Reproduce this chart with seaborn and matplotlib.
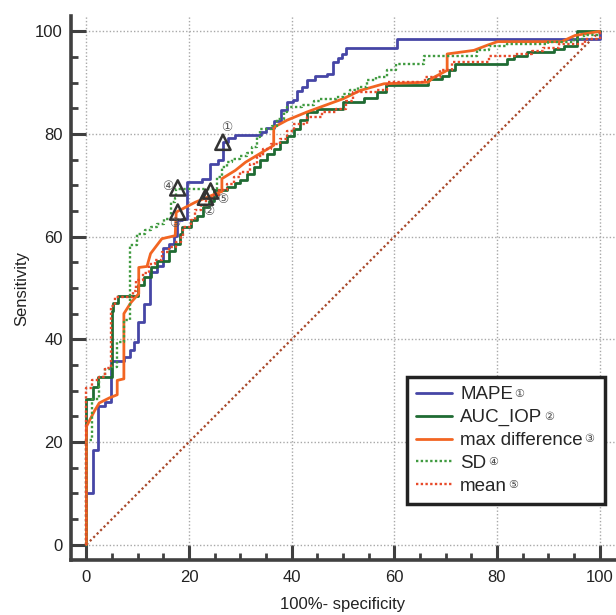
import pandas as pd
import matplotlib
matplotlib.use("Agg")
import matplotlib.pyplot as plt
import matplotlib.transforms as mtransforms
from matplotlib.patches import Rectangle
import seaborn as sns
from matplotlib.ticker import MultipleLocator

# ROC curves (x = 100% - specificity, y = sensitivity)
mape_x = [0, 0, 1.3, 2.2, 3.6, 4.8, 7.4, 8.5, 9.2, 10.0, 11.2, 12.3, 13.8, 15.0, 16.0, 17.0,
          17.7, 18.6, 19.6, 22.5, 24.0, 25.6, 26.6, 27.6, 29.0, 34.0, 35.0, 36.5, 38.0, 39.0,
          40.2, 41.0, 42.0, 43.0, 44.5, 46.8, 48.0, 49.0, 49.8, 50.5, 60.6, 98.2, 100]
mape_y = [0, 10, 18.5, 27.0, 27.8, 35.7, 36.6, 38.0, 39.4, 43.3, 46.9, 53.1, 54.2, 57.8, 58.6, 60.2,
          63.3, 63.5, 70.6, 71.2, 74.2, 75.0, 78.4, 79.2, 79.9, 80.3, 81.2, 82.6, 84.6, 86.2,
          86.6, 88.4, 89.2, 90.5, 91.3, 91.7, 94.0, 94.8, 95.6, 96.8, 98.6, 98.6, 100]

auc_x = [0, 0, 1.2, 2.2, 4.9, 5.2, 6.1, 10.0, 11.2, 12.5, 13.8, 16.0, 17.3, 18.3, 18.6, 20.3,
         21.6, 22.7, 23.8, 24.8, 27.4, 29.0, 30.0, 31.3, 32.6, 33.9, 35.2, 36.5, 37.8, 39.1,
         40.4, 41.7, 43.0, 45.0, 50.0, 54.0, 56.7, 58.3, 66.6, 69.3, 70.6, 71.9, 82.0, 83.3,
         85.9, 91.1, 93.0, 95.6, 95.6, 100]
auc_y = [0, 28.4, 30.7, 32.6, 45.6, 47.0, 48.5, 50.5, 52.1, 54.0, 55.2, 57.3, 58.6, 60.6, 61.9, 63.2,
         64.1, 65.8, 67.0, 69.0, 69.6, 70.4, 71.1, 72.2, 73.5, 74.9, 76.2, 77.1, 78.4, 79.7,
         81.0, 82.7, 84.3, 84.8, 86.2, 87.0, 88.1, 89.6, 90.8, 91.4, 92.4, 93.7, 94.7, 95.3,
         96.0, 96.6, 97.2, 97.9, 100, 100]

maxd_x = [0, 0, 1.6, 2.5, 4.5, 6.0, 6.0, 7.3, 7.3, 8.7, 10.2, 10.2, 11.8, 12.5, 14.7, 17.3,
          17.5, 21.2, 24.8, 26.4, 26.4, 29.0, 31.0, 36.5, 36.5, 39.1, 43.0, 50.1, 53.4, 58.0,
          66.6, 67.6, 70.3, 70.3, 75.5, 78.1, 80.1, 92.6, 95.2, 100]
maxd_y = [0, 23.0, 26.1, 27.6, 28.6, 29.2, 32.0, 32.3, 45.0, 47.2, 48.9, 54.0, 54.2, 56.7, 59.6, 60.2,
          64.8, 66.7, 68.2, 68.8, 71.3, 72.9, 74.5, 77.8, 81.3, 82.7, 84.3, 86.9, 88.5, 89.8,
          90.1, 91.0, 92.4, 95.6, 96.3, 97.3, 98.0, 98.0, 99.2, 100]

sd_x = [0, 0, 1.0, 1.0, 2.4, 3.7, 4.9, 6.0, 6.0, 7.3, 8.4, 8.4, 9.9, 11.5, 12.5, 13.8, 15.1,
        16.4, 17.3, 17.5, 25.5, 26.4, 27.4, 28.4, 30.0, 31.3, 32.3, 33.3, 33.9, 36.2, 37.1,
        38.5, 39.1, 42.0, 44.3, 45.5, 48.7, 50.0, 51.3, 53.0, 54.6, 56.5, 58.5, 60.4, 65.7,
        76.1, 78.5, 82.0, 90.0, 95.0, 97.0, 100]
sd_y = [0, 20.3, 21.0, 28.4, 32.6, 34.2, 34.6, 35.9, 39.4, 43.7, 45.0, 58.3, 60.6, 61.3, 61.9, 62.5, 63.5,
        66.7, 67.5, 69.3, 71.6, 73.5, 74.5, 75.2, 75.8, 76.4, 77.4, 79.5, 81.0, 81.6, 83.0,
        84.2, 85.3, 85.6, 86.5, 86.9, 87.2, 87.8, 88.5, 89.2, 90.5, 91.2, 92.4, 93.7, 95.3,
        96.3, 97.2, 97.5, 98.0, 98.6, 99.2, 100]

mean_x = [0, 0, 1.0, 2.4, 3.7, 4.7, 5.5, 9.0, 9.6, 11.0, 12.1, 13.4, 14.8, 16.0, 17.5, 18.5,
          18.9, 20.3, 21.2, 22.3, 23.4, 24.5, 25.8, 27.4, 28.7, 30.0, 31.9, 33.2, 34.5, 36.0,
          37.8, 39.0, 40.4, 43.0, 46.0, 48.7, 50.5, 52.0, 56.7, 58.5, 66.0, 69.0, 71.2, 78.4,
          83.6, 86.9, 89.0, 92.0, 97.1, 100]
mean_y = [0, 30.5, 32.0, 32.7, 34.4, 46.4, 48.2, 49.5, 51.5, 53.0, 54.7, 55.5, 57.0, 58.0, 59.0, 59.9,
          61.9, 63.2, 65.2, 66.2, 67.4, 68.2, 69.0, 70.3, 71.6, 72.6, 74.2, 75.8, 77.1, 78.0,
          79.1, 80.5, 82.0, 83.3, 84.3, 84.9, 86.5, 88.2, 88.6, 90.1, 91.2, 92.5, 94.0, 95.3,
          95.6, 96.2, 96.8, 97.6, 98.6, 100]

# optimal cut-off points and their circled labels
cut_x = [26.6, 23.2, 17.8, 17.8, 24.2]
cut_y = [78.4, 67.7, 64.8, 69.5, 68.9]
cut_labels = ["\u2460", "\u2461", "\u2462", "\u2463", "\u2464"]
label_x = [27.4, 23.9, 17.2, 15.8, 26.5]
label_y = [81.3, 65.0, 62.5, 69.8, 67.3]

names = ["MAPE", "AUC_IOP", "max difference", "SD", "mean"]

sns.set_style("white")
plt.rcParams["font.family"] = ["Liberation Sans", "DejaVu Sans"]

fig = plt.figure(figsize=(6.16, 6.15), dpi=100)
ax = fig.add_axes([0.1153, 0.0894, 0.883, 0.8846])

ax.set_xlim(-3, 103)
ax.set_ylim(-3, 103)
ax.grid(True, which="major", color="#a8a8a8", linestyle=(0, (1, 1.5)), linewidth=1.0)
ax.set_axisbelow(True)

diag = pd.DataFrame({"x": [0, 100], "y": [0, 100]})
sns.lineplot(data=diag, x="x", y="y", ax=ax, color="#a8482a", linestyle=(0, (1, 1.2)),
             linewidth=1.6, estimator=None, sort=False)

styles = [
    (mape_x, mape_y, "#4646a6", "-", 2.0, "steps-post"),
    (auc_x, auc_y, "#1f6b33", "-", 2.0, "steps-post"),
    (maxd_x, maxd_y, "#f26522", "-", 2.0, "default"),
    (sd_x, sd_y, "#3f9a3f", (0, (1, 1)), 1.7, "steps-post"),
    (mean_x, mean_y, "#e84a2a", (0, (1, 1)), 1.7, "steps-post"),
]
for name, (xs, ys, col, ls, lw, ds) in zip(names, styles):
    df = pd.DataFrame({"x": xs, "y": ys})
    sns.lineplot(data=df, x="x", y="y", ax=ax, color=col, linestyle=ls, linewidth=lw,
                 drawstyle=ds, estimator=None, sort=False, label=name)

cuts = pd.DataFrame({"x": cut_x, "y": cut_y})
sns.scatterplot(data=cuts, x="x", y="y", ax=ax, marker="^", s=120, facecolor="none",
                edgecolor="#333333", linewidth=1.8, zorder=5)
for lx, ly, t in zip(label_x, label_y, cut_labels):
    ax.text(lx, ly, t, fontsize=9, color="#555555", ha="center", va="center",
            family=["DejaVu Sans"], zorder=6)

ax.xaxis.set_major_locator(MultipleLocator(20))
ax.yaxis.set_major_locator(MultipleLocator(20))
ax.xaxis.set_minor_locator(MultipleLocator(5))
ax.yaxis.set_minor_locator(MultipleLocator(5))
ax.tick_params(which="both", bottom=True, left=True, top=False, right=False)
ax.tick_params(which="major", direction="in", length=11, width=2.2, color="#404040",
               labelsize=12, pad=7, labelcolor="#222222")
ax.tick_params(which="minor", direction="in", length=5, width=2.0, color="#404040")
ax.tick_params(axis="y", which="major", pad=6)

for side in ["top", "right"]:
    ax.spines[side].set_visible(False)
for side in ["left", "bottom"]:
    ax.spines[side].set_color("#404040")
    ax.spines[side].set_linewidth(2.6)

ax.set_xlabel("100%- specificity", fontsize=12, labelpad=9, color="#222222")
ax.set_ylabel("Sensitivity", fontsize=12, labelpad=4, color="#222222")

# legend drawn without its own frame; the frame is added below, widened for the numbers
extra = 13
leg = ax.legend(loc="lower right", bbox_to_anchor=(0.958, 0.103), fontsize=13.5,
                frameon=False, handlelength=1.9, labelspacing=0.3, borderpad=0.5,
                handletextpad=0.45, borderaxespad=0)
leg.set_zorder(7)

fig.canvas.draw()
renderer = fig.canvas.get_renderer()
lb = leg.get_window_extent(renderer)
frame = Rectangle((lb.x0, lb.y0), lb.width + extra, lb.height, facecolor="white",
                  edgecolor="#222222", linewidth=2.5, transform=mtransforms.IdentityTransform(),
                  zorder=6.5)
ax.add_artist(frame)

# small circled numbers right after each legend label
for t, num in zip(leg.get_texts(), cut_labels):
    bb = t.get_window_extent(renderer)
    prop = t.get_fontproperties()
    d_lp = renderer.get_text_width_height_descent("lp", prop, ismath=False)[2]
    fs_px = prop.get_size_in_points() * fig.dpi / 72
    ybase = bb.y0 + d_lp
    fig.text(bb.x1 + 1.5, ybase + 0.3 * fs_px, num, fontsize=8, color="#444444",
             ha="left", va="center", family=["DejaVu Sans"], zorder=8,
             transform=mtransforms.IdentityTransform())

fig.savefig("out.png", dpi=100)
